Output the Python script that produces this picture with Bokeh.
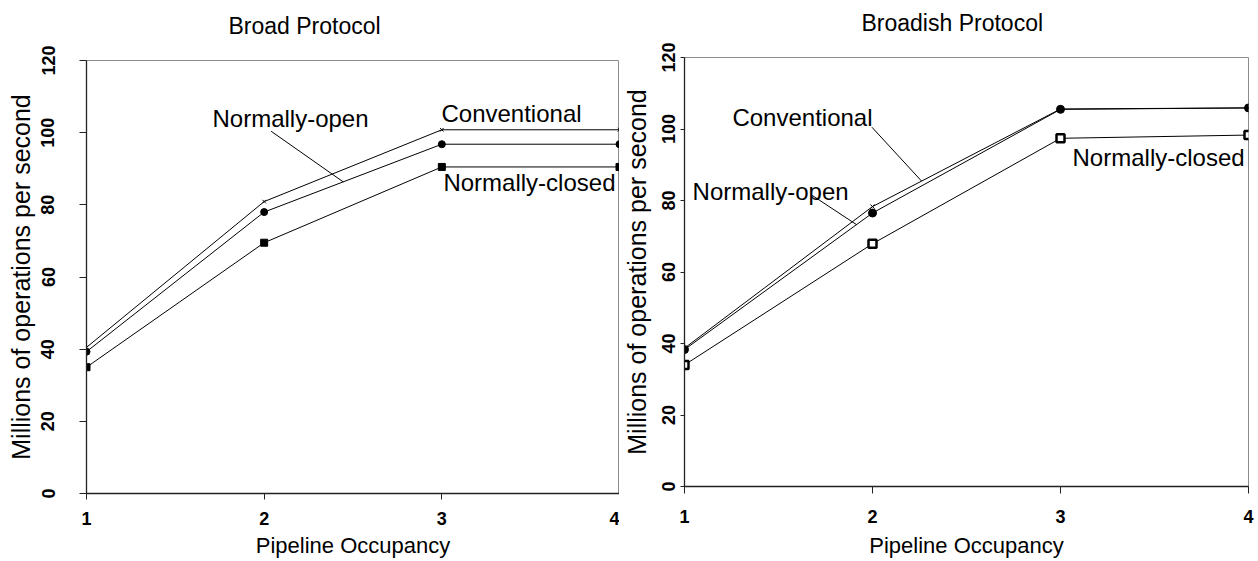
from bokeh.plotting import figure
from bokeh.layouts import row, column
from bokeh.models import Label, Range1d, FixedTicker, Title
from bokeh.embed import file_html
from bokeh.resources import INLINE

# ---- data ----
occupancy = [1, 2, 3, 4]
x_ticks = [1, 2, 3, 4]
y_ticks = [0, 20, 40, 60, 80, 100, 120]

broad_conventional = [40.5, 80.9, 100.8, 100.8]
broad_normally_open = [39.3, 78.0, 96.8, 96.8]
broad_normally_closed = [35.0, 69.5, 90.5, 90.5]

broadish_conventional = [38.7, 78.3, 105.6, 105.9]
broadish_normally_open = [38.3, 76.5, 105.5, 105.9]
broadish_normally_closed = [34.0, 67.9, 97.4, 98.3]

FONT = "Liberation Sans"


def on_series(xs, ys, xq):
    for i in range(len(xs) - 1):
        if xs[i] <= xq <= xs[i + 1]:
            t = (xq - xs[i]) / (xs[i + 1] - xs[i])
            return ys[i] + t * (ys[i + 1] - ys[i])
    return ys[-1]


def make_panel(title, title_size, title_offset, title_standoff, spacer,
               bl, fw, br, bt, fh, bb, ytick_out, ystandoff, ylab_standoff,
               xtick_out, xstandoff, xlab_standoff):
    p = figure(output_backend="svg", toolbar_location=None,
               frame_width=fw, frame_height=fh,
               min_border_left=bl, min_border_right=br,
               min_border_top=bt, min_border_bottom=bb,
               x_range=Range1d(1, 4), y_range=Range1d(0, 120))
    p.title.text = title
    p.title.align = "left"
    p.title.offset = title_offset
    p.title.standoff = title_standoff
    p.title.text_font = FONT
    p.title.text_font_style = "normal"
    p.title.text_font_size = title_size
    p.title.text_color = "black"
    # empty spacer between the title and the frame
    p.add_layout(Title(text=" ", text_font_size="1px", standoff=spacer), "above")

    p.grid.visible = False
    p.background_fill_color = "white"
    p.border_fill_color = "white"
    p.outline_line_color = "#8c8c8c"
    p.outline_line_width = 1

    p.xaxis.ticker = FixedTicker(ticks=x_ticks)
    p.yaxis.ticker = FixedTicker(ticks=y_ticks)
    for ax in (p.xaxis[0], p.yaxis[0]):
        ax.axis_line_color = "#222222"
        ax.axis_line_width = 1.3
        ax.major_tick_line_color = "#222222"
        ax.major_tick_in = 0
        ax.minor_tick_line_color = None
        ax.major_label_text_font = FONT
        ax.major_label_text_font_style = "bold"
        ax.major_label_text_font_size = "18px"
        ax.major_label_text_color = "black"
        ax.axis_label_text_font = FONT
        ax.axis_label_text_font_style = "normal"
        ax.axis_label_text_color = "black"
    p.yaxis.axis_label_text_font_size = "25px"
    p.xaxis.axis_label_text_font_size = "22px"
    p.yaxis.major_tick_out = ytick_out
    p.yaxis.major_label_standoff = ystandoff
    p.yaxis.axis_label_standoff = ylab_standoff
    p.yaxis.major_label_orientation = "vertical"
    p.xaxis.major_tick_out = xtick_out
    p.xaxis.major_label_standoff = xstandoff
    p.xaxis.axis_label_standoff = xlab_standoff
    p.yaxis.axis_label = "Millions of operations per second"
    p.xaxis.axis_label = "Pipeline Occupancy"
    return p


def label(p, x, y, text, size="24px"):
    p.add_layout(Label(x=x, y=y, text=text, text_font=FONT,
                       text_font_size=size, text_color="black",
                       text_align="left", text_baseline="alphabetic"))


# ---------------- left: Broad Protocol ----------------
p1 = make_panel("Broad Protocol", "23px", 142, 18, 10,
                86, 533, 0, 60, 433, 68, 7, 25, 4, 6, 12, 5)
p1.line(occupancy, broad_conventional, color="black", line_width=1)
p1.line(occupancy, broad_normally_open, color="black", line_width=1)
p1.line(occupancy, broad_normally_closed, color="black", line_width=1)
p1.scatter(occupancy, broad_conventional, marker="x", size=5, color="black", line_width=1)
p1.scatter(occupancy, broad_normally_open, marker="circle", size=7, color="black")
p1.scatter(occupancy, broad_normally_closed, marker="square", size=7, color="black")

label(p1, 1.709, 103.9, "Normally-open")
label(p1, 2.998, 105.4, "Conventional")
label(p1, 3.009, 86.2, "Normally-closed")
xe = 2.445
p1.line([2.039, xe], [100.4, on_series(occupancy, broad_normally_open, xe)],
        color="black", line_width=1)

# ---------------- right: Broadish Protocol ----------------
p2 = make_panel("Broadish Protocol", "23px", 177, 6, 16,
                65, 564, 10, 57, 429, 75, 4, 6, 8, 7, 16, 7)
p2.line(occupancy, broadish_conventional, color="black", line_width=1)
p2.line(occupancy, broadish_normally_open, color="black", line_width=1)
p2.line(occupancy, broadish_normally_closed, color="black", line_width=1)
p2.scatter(occupancy, broadish_conventional, marker="x", size=6, color="black", line_width=1)
p2.scatter(occupancy, broadish_normally_open, marker="circle", size=8, color="black")
p2.scatter(occupancy, broadish_normally_closed, marker="square", size=8,
           fill_color="white", line_color="black", line_width=2.5)

label(p2, 1.255, 103.2, "Conventional")
label(p2, 1.043, 82.6, "Normally-open")
label(p2, 3.064, 92.1, "Normally-closed")
xc = 2.261
p2.line([1.997, xc], [100.5, on_series(occupancy, broadish_conventional, xc)],
        color="black", line_width=1)
xo = 1.915
p2.line([1.68, xo], [81.4, on_series(occupancy, broadish_normally_open, xo)],
        color="black", line_width=1)

layout = row(column(p1), column(p2))
open("out.html", "w").write(file_html(layout, INLINE))
